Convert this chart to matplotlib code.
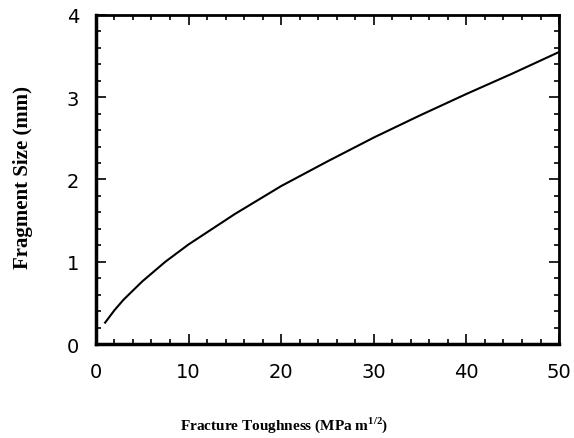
import matplotlib
matplotlib.use("Agg")
import matplotlib.pyplot as plt
from matplotlib.ticker import MultipleLocator

plt.rcParams['mathtext.fontset'] = 'custom'
plt.rcParams['mathtext.rm'] = 'Liberation Serif'
plt.rcParams['mathtext.bf'] = 'Liberation Serif:bold'

# values
toughness = [1, 2, 3, 5, 7.5, 10, 15, 20, 25, 30, 35, 40, 45, 50]
frag_size = [0.26, 0.41, 0.54, 0.76, 1.00, 1.21, 1.58, 1.92, 2.22, 2.51, 2.78, 3.04, 3.29, 3.55]

xticks = [0, 10, 20, 30, 40, 50]
yticks = [0, 1, 2, 3, 4]

fig = plt.figure(figsize=(5.74, 4.39), dpi=100)
ax = fig.add_axes([0.167, 0.2141, 0.974 - 0.167, 0.9636 - 0.2141])

ax.plot(toughness, frag_size, color='black', lw=1.5)

ax.set_xlim(0, 50)
ax.set_ylim(0, 4)
ax.set_xticks(xticks)
ax.set_yticks(yticks)
ax.xaxis.set_minor_locator(MultipleLocator(2))
ax.yaxis.set_minor_locator(MultipleLocator(0.2))

ax.tick_params(which='both', direction='in', top=True, right=True, width=1.2, color='black')
ax.tick_params(which='major', length=7)
ax.tick_params(which='minor', length=3.5)
ax.tick_params(axis='x', which='major', pad=13)
ax.tick_params(axis='y', which='major', pad=12)

for lab in ax.get_xticklabels() + ax.get_yticklabels():
    lab.set_family('DejaVu Sans')
    lab.set_fontsize(14)

for side in ['left', 'bottom']:
    ax.spines[side].set_linewidth(2.5)
for side in ['top', 'right']:
    ax.spines[side].set_linewidth(2.0)

ax.set_xlabel('Fracture Toughness (MPa m$^{\\mathbf{1/2}}$)', family='Liberation Serif',
              fontweight='bold', fontsize=11)
ax.set_ylabel('Fragment Size (mm)', family='Liberation Serif',
              fontweight='bold', fontsize=15)
ax.xaxis.set_label_coords(0.406, -0.214)
ax.yaxis.set_label_coords(-0.136, 0.509)

fig.savefig('out.png', dpi=100)
